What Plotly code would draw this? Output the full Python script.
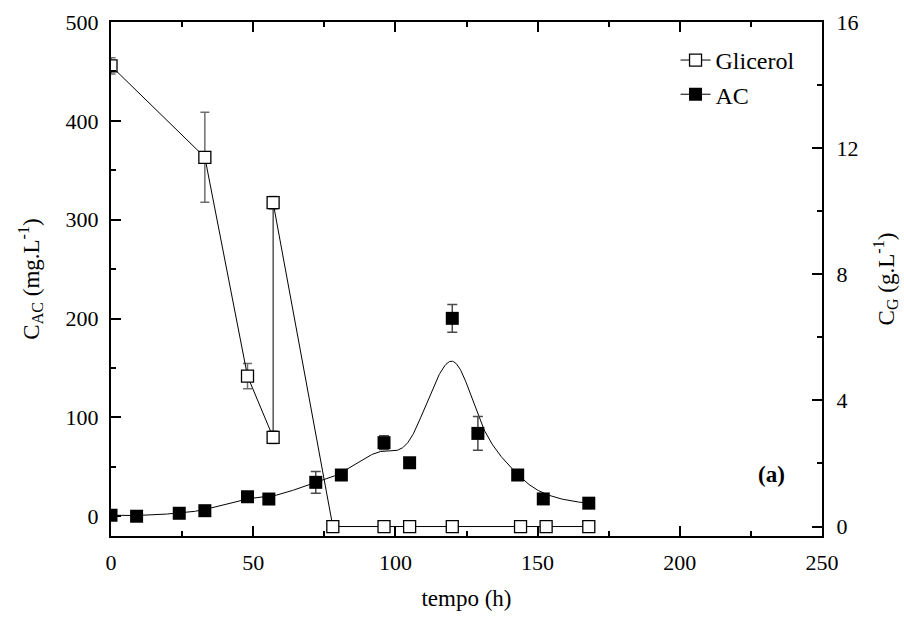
import numpy as np
import plotly.graph_objects as go

# Acid concentration (mg/L), left axis
ac_t = [0, 9, 24, 33, 48, 55.5, 72, 81, 96, 105, 120, 129, 143, 152, 168]
ac_val = [1, 0, 3, 5.6, 19.7, 17.4, 34.3, 41.7, 74.4, 54.1, 200.2, 83.8, 41.7, 17.5, 13.2]
ac_err = [None, None, None, None, None, None, 11, None, 7, None, 14, 17, None, None, None]

# Glycerol concentration (g/L), right axis
gl_t = [0, 33, 48, 57, 57, 78, 96, 105, 120, 144, 153, 168]
gl_val = [14.61, 11.71, 4.77, 2.83, 10.27, 0, 0, 0, 0, 0, 0, 0]
gl_err = [0.26, 1.43, 0.4, 0.2, 0.2, None, None, None, None, None, None, None]

x_ticks = [0, 50, 100, 150, 200, 250]
y_ticks = [0, 100, 200, 300, 400, 500]
y2_ticks = [0, 4, 8, 12, 16]

FONT = "Liberation Serif"


def clamped_bspline(xs, ys, degree=3, n_out=600):
    """Cubic B-spline that uses the data points as control points (clamped ends)."""
    P = np.column_stack([xs, ys]).astype(float)
    n = len(P)
    k = degree
    inner = np.arange(1, n - k)
    knots = np.concatenate([np.zeros(k + 1), inner, np.full(k + 1, n - k)]).astype(float)
    u = np.linspace(0, n - k, n_out)
    u[-1] -= 1e-9

    def basis(i, p, uu):
        if p == 0:
            return np.where((knots[i] <= uu) & (uu < knots[i + 1]), 1.0, 0.0)
        a = 0.0
        d1 = knots[i + p] - knots[i]
        if d1 > 0:
            a = (uu - knots[i]) / d1 * basis(i, p - 1, uu)
        b = 0.0
        d2 = knots[i + p + 1] - knots[i + 1]
        if d2 > 0:
            b = (knots[i + p + 1] - uu) / d2 * basis(i + 1, p - 1, uu)
        return a + b

    curve = np.zeros((n_out, 2))
    for i in range(n):
        curve += basis(i, k, u)[:, None] * P[i]
    return curve[:, 0], curve[:, 1]


sx, sy = clamped_bspline(ac_t, ac_val)

fig = go.Figure()

# Glycerol: open squares joined by straight segments
fig.add_trace(go.Scatter(
    x=gl_t, y=gl_val, yaxis="y2", name="Glicerol",
    mode="lines+markers",
    line=dict(color="black", width=1),
    marker=dict(symbol="square", size=12, color="white",
                line=dict(color="black", width=1.3)),
    error_y=dict(type="data", array=gl_err, visible=True,
                 color="#6e6e6e", thickness=1.5, width=4.5),
))

# Acid: B-spline built on the measured points, with filled squares on top
fig.add_trace(go.Scatter(
    x=sx, y=sy, mode="lines", line=dict(color="black", width=1),
    showlegend=False, hoverinfo="skip",
))
fig.add_trace(go.Scatter(
    x=ac_t, y=ac_val, name="AC", legendgroup="ac", showlegend=False,
    mode="markers",
    marker=dict(symbol="square", size=13, color="black"),
    error_y=dict(type="data", array=ac_err, visible=True,
                 color="#4a4a4a", thickness=1.5, width=5),
))
# legend key for the acid series (line + filled square)
fig.add_trace(go.Scatter(
    x=[None], y=[None], name="AC", legendgroup="ac",
    mode="lines+markers", line=dict(color="black", width=1),
    marker=dict(symbol="square", size=13, color="black"),
))

axis_common = dict(
    showline=True, linecolor="black", linewidth=2,
    ticks="inside", ticklen=10, tickwidth=2, tickcolor="black",
    showgrid=False, zeroline=False, automargin=False,
    tickfont=dict(family=FONT, size=22, color="black"),
)

fig.update_layout(
    width=904, height=617,
    margin=dict(l=111, r=82, t=22, b=81),
    paper_bgcolor="white", plot_bgcolor="white",
    font=dict(family=FONT, size=22, color="black"),
    xaxis=dict(
        **axis_common, range=[0, 250], tickvals=x_ticks, mirror="ticks",
        minor=dict(ticks="inside", ticklen=5, tickwidth=2, dtick=25, tickcolor="black"),
        title=dict(text="tempo (h)", font=dict(family=FONT, size=23), standoff=15),
        ticklabelstandoff=6,
    ),
    yaxis=dict(
        **axis_common, range=[-20, 500], tickvals=y_ticks,
        minor=dict(ticks="inside", ticklen=5, tickwidth=2, dtick=50, tickcolor="black"),
        title=dict(text="C<sub>AC</sub> (mg.L<sup>-1</sup>)", font=dict(family=FONT, size=23), standoff=20),
        ticklabelstandoff=6,
    ),
    yaxis2=dict(
        **axis_common, range=[-0.3, 16], tickvals=y2_ticks,
        overlaying="y", side="right",
        minor=dict(ticks="inside", ticklen=5, tickwidth=2, dtick=2, tickcolor="black"),
        title=dict(text="C<sub>G</sub> (g.L<sup>-1</sup>)", font=dict(family=FONT, size=23), standoff=20),
        ticklabelstandoff=8,
    ),
    legend=dict(
        x=0.794, y=0.969, xanchor="left", yanchor="top",
        bgcolor="rgba(0,0,0,0)", borderwidth=0,
        font=dict(family=FONT, size=24, color="black"),
        tracegroupgap=0, itemwidth=30,
    ),
    annotations=[dict(
        text="<b>(a)</b>", x=0.951, y=0.12, xref="paper", yref="paper",
        xanchor="right", yanchor="middle", showarrow=False,
        font=dict(family=FONT, size=23, color="black"),
    )],
    showlegend=True,
)

fig.write_html("out.html")
